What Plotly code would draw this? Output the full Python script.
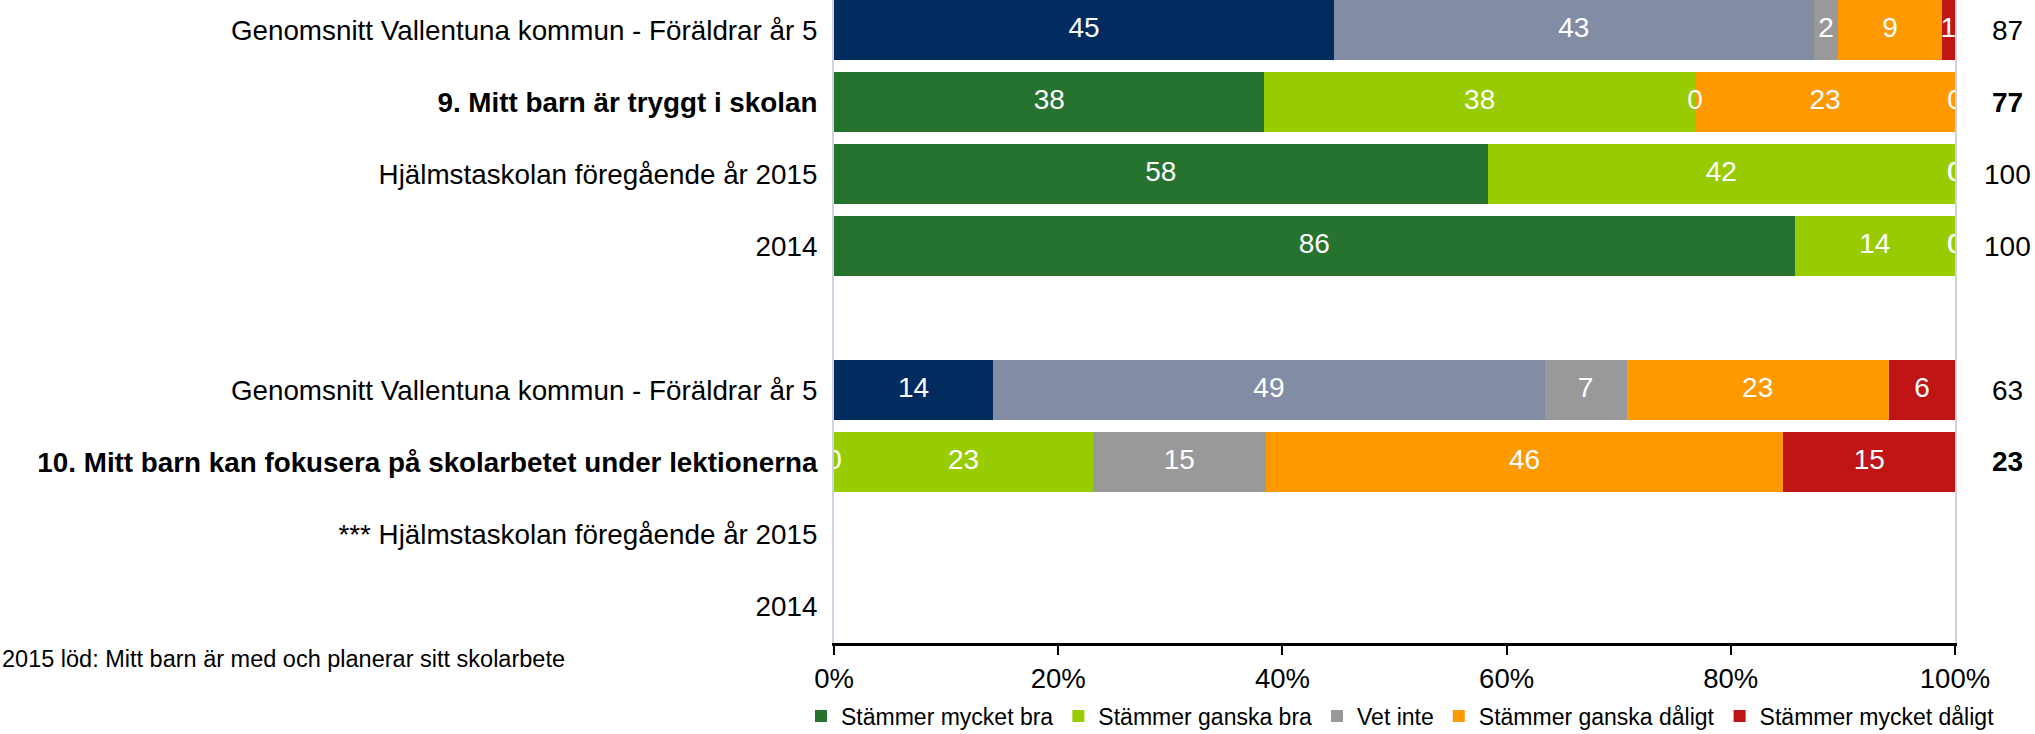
import plotly.graph_objects as go

# ---------------- data ----------------
row_labels = [
    "Genomsnitt Vallentuna kommun - Föräldrar år 5",
    "9. Mitt barn är tryggt i skolan",
    "Hjälmstaskolan föregående år 2015",
    "2014",
    "",
    "Genomsnitt Vallentuna kommun - Föräldrar år 5",
    "10. Mitt barn kan fokusera på skolarbetet under lektionerna",
    "*** Hjälmstaskolan föregående år 2015",
    "2014",
]
bold_rows = [1, 6]
average_rows = [0, 5]

series_names = ["Stämmer mycket bra", "Stämmer ganska bra", "Vet inte",
                "Stämmer ganska dåligt", "Stämmer mycket dåligt"]

mycket_bra    = [44.6, 38.4, 58.3, 85.7, None, 14.2, 0.0, 0, 0]
ganska_bra    = [42.8, 38.4, 41.7, 14.3, None, 49.2, 23.1, 0, 0]
vet_inte      = [2.2, 0.0, 0.0, 0.0, None, 7.3, 15.4, 0, 0]
ganska_daligt = [9.2, 23.2, 0.0, 0.0, None, 23.4, 46.2, 0, 0]
mycket_daligt = [1.2, 0.0, 0.0, 0.0, None, 5.9, 15.3, 0, 0]

totals = [87, 77, 100, 100, None, 63, 23, None, None]

x_tickvals = [0, 20, 40, 60, 80, 100]
x_ticktext = ["0%", "20%", "40%", "60%", "80%", "100%"]

footnote = "2015 löd: Mitt barn är med och planerar sitt skolarbete"

school_colors = ["#267330", "#99CC00", "#999999", "#FF9900", "#C01515"]
average_colors = ["#022B60", "#828CA5", "#999999", "#FF9900", "#C01515"]

# ---------------- figure ----------------
series = [mycket_bra, ganska_bra, vet_inte, ganska_daligt, mycket_daligt]
ypos = list(range(len(row_labels)))
FONT = "Arial, Liberation Sans, sans-serif"

W, H = 2035, 734
ML, MR, MT, MB = 834, 80, 0, 91
PW, PH = W - ML - MR, H - MT - MB

fig = go.Figure()

# school rows (with legend)
for name, vals, col in zip(series_names, series, school_colors):
    v = [None if (i in average_rows) else vals[i] for i in ypos]
    fig.add_trace(go.Bar(
        y=ypos, x=v, orientation="h", name=name,
        marker=dict(color=col, line=dict(width=0)),
        hoverinfo="skip",
    ))
# average rows (no legend)
for name, vals, col in zip(series_names, series, average_colors):
    v = [vals[i] if (i in average_rows) else None for i in ypos]
    fig.add_trace(go.Bar(
        y=ypos, x=v, orientation="h", name=name, showlegend=False,
        marker=dict(color=col, line=dict(width=0)),
        hoverinfo="skip",
    ))

# segment labels (centered on each segment, including zero-width ones)
lx, ly, lt = [], [], []
for i in ypos:
    start = 0.0
    for vals in series:
        v = vals[i]
        if v is None:
            continue
        lx.append(start + v / 2.0)
        ly.append(i)
        lt.append(str(int(round(v))))
        start += v
fig.add_trace(go.Scatter(
    x=lx, y=ly, text=lt, mode="text", showlegend=False, hoverinfo="skip",
    textfont=dict(color="white", size=28, family=FONT),
    textposition="middle center", cliponaxis=True,
))

ticktext = [f"<b>{t}</b>" if i in bold_rows else t for i, t in enumerate(row_labels)]

n = len(row_labels)
fig.update_layout(
    width=W, height=H,
    margin=dict(l=ML, r=MR, t=MT, b=MB, autoexpand=False),
    paper_bgcolor="white", plot_bgcolor="white",
    barmode="stack", bargap=0.174,
    font=dict(family=FONT, color="black", size=27),
    xaxis=dict(
        range=[0, 100], tickmode="array", tickvals=x_tickvals, ticktext=x_ticktext,
        showgrid=False, zeroline=False,
        showline=True, linecolor="black", linewidth=3,
        ticks="outside", ticklen=9, tickwidth=2, tickcolor="black",
        tickfont=dict(size=27.5, family=FONT, color="black"),
    ),
    yaxis=dict(
        range=[n - 1 + 0.514, -0.4167], tickmode="array",
        tickvals=ypos, ticktext=ticktext,
        showgrid=False, zeroline=False,
        showline=True, linecolor="#CDD3E0", linewidth=2, mirror=True,
        ticks="", ticklabelstandoff=9,
        tickfont=dict(size=27.8, family=FONT, color="black"),
        layer="below traces",
    ),
    legend=dict(
        orientation="h", x=(801 - ML) / PW, xanchor="left",
        y=-(716 - PH) / PH, yanchor="middle",
        font=dict(size=23, family=FONT, color="black"),
        traceorder="normal", itemclick=False, bgcolor="rgba(0,0,0,0)",
    ),
    showlegend=True,
)

# totals at the right
for i, t in enumerate(totals):
    if t is None:
        continue
    txt = f"<b>{t}</b>" if i in bold_rows else str(t)
    fig.add_annotation(
        x=(2007 - ML) / PW, xref="paper", y=i, yref="y", text=txt, showarrow=False,
        xanchor="center", yanchor="middle",
        font=dict(size=28, family=FONT, color="black"),
    )

fig.add_annotation(
    x=-ML / PW, xref="paper", y=-(659 - PH) / PH, yref="paper",
    text=footnote, showarrow=False, xanchor="left", yanchor="middle",
    font=dict(size=23.5, family=FONT, color="black"),
)

fig.write_html("out.html", config={"displayModeBar": False},
               post_script="document.body.style.margin='0px';")
